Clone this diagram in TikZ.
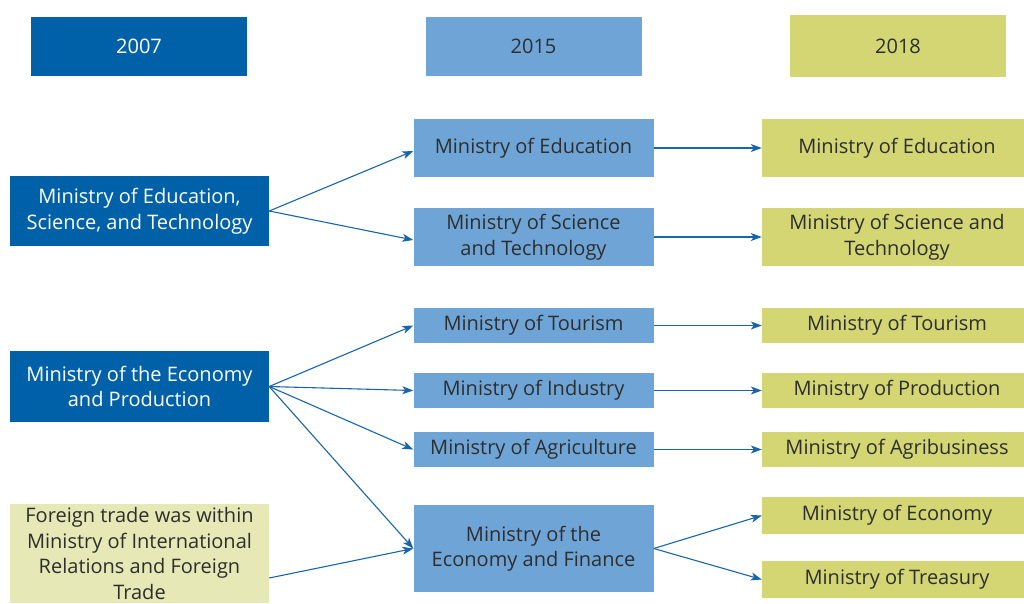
\documentclass[tikz,border=0pt]{standalone}
\usepackage{fontspec}
\setmainfont{Open Sans}
\usetikzlibrary{arrows.meta}
\definecolor{darkfill}{HTML}{0061A8}
\definecolor{lightfill}{HTML}{6FA5D6}
\definecolor{newfill}{HTML}{D3D673}
\definecolor{notefill}{HTML}{E6E8B6}
\definecolor{arrowline}{HTML}{1765AC}
\definecolor{darktext}{HTML}{2E2E2E}
\tikzset{
  box/.style={rectangle, inner sep=0pt, align=center, font=\fontsize{20}{25.5}\selectfont},
  yearbox/.style={box, minimum width=216pt, minimum height=59pt},
  oldbox/.style={box, fill=darkfill, text=white, minimum width=259pt, minimum height=70pt},
  notebox/.style={box, fill=notefill, text=darktext, minimum width=259pt, minimum height=99pt},
  midbox/.style={box, fill=lightfill, text=darktext, minimum width=240pt},
  newbox/.style={box, fill=newfill, text=darktext, minimum width=270pt},
  flow/.style={-{Stealth[length=11pt, width=8pt, inset=3pt]}, line width=1.1pt, draw=arrowline}
}
\begin{document}
\begin{tikzpicture}[x=1pt, y=-1pt]
\clip (0,0) rectangle (1024,603);

\node[yearbox, fill=darkfill, text=white] (y07) at (139, 46.5) {2007};
\node[yearbox, fill=lightfill, text=darktext] (y15) at (533.5, 46.5) {2015};
\node[yearbox, fill=newfill, text=darktext, minimum height=62pt] (y18) at (898, 46) {2018};

\node[oldbox] (edu07) at (139.5, 211) {Ministry of Education,\\Science, and Technology};
\node[oldbox, minimum height=71pt] (econ07) at (139.5, 386.5) {Ministry of the Economy\\and Production};
\node[notebox] (trade07) at (139.5, 553.5) {Foreign trade was within\\Ministry of International\\Relations and Foreign\\Trade};

\node[midbox, minimum height=58pt] (edu15) at (533.5, 148) {Ministry of Education};
\node[midbox, minimum height=58pt] (sci15) at (533.5, 237) {Ministry of Science\\and Technology};
\node[midbox, minimum height=35pt] (tour15) at (533.5, 325.5) {Ministry of Tourism};
\node[midbox, minimum height=35pt] (ind15) at (533.5, 390.5) {Ministry of Industry};
\node[midbox, minimum height=35pt] (agr15) at (533.5, 449.5) {Ministry of Agriculture};
\node[midbox, minimum height=87pt] (fin15) at (533.5, 548.5) {Ministry of the\\Economy and Finance};

\node[newbox, minimum height=58pt] (edu18) at (897, 148) {Ministry of Education};
\node[newbox, minimum height=58pt] (sci18) at (897, 237) {Ministry of Science and\\Technology};
\node[newbox, minimum height=35pt] (tour18) at (897, 325.5) {Ministry of Tourism};
\node[newbox, minimum height=35pt] (prod18) at (897, 390.5) {Ministry of Production};
\node[newbox, minimum height=35pt] (agr18) at (897, 449.5) {Ministry of Agribusiness};
\node[newbox, minimum height=37pt] (eco18) at (897, 515.5) {Ministry of Economy};
\node[newbox, minimum height=37pt] (tre18) at (897, 579.5) {Ministry of Treasury};

\draw[flow] (edu07.east) -- ([yshift=-3pt]edu15.west);
\draw[flow] (edu07.east) -- ([yshift=-3pt]sci15.west);
\draw[flow] (econ07.east) -- (tour15.west);
\draw[flow] (econ07.east) -- (ind15.west);
\draw[flow] (econ07.east) -- (agr15.west);
\draw[flow] (econ07.east) -- (fin15.west);
\draw[flow] ([yshift=-24.5pt]trade07.east) -- (fin15.west);

\draw[flow] (edu15.east) -- (edu18.west);
\draw[flow] (sci15.east) -- (sci18.west);
\draw[flow] (tour15.east) -- (tour18.west);
\draw[flow] (ind15.east) -- (prod18.west);
\draw[flow] (agr15.east) -- (agr18.west);
\draw[flow] (fin15.east) -- (eco18.west);
\draw[flow] (fin15.east) -- (tre18.west);

\end{tikzpicture}
\end{document}
